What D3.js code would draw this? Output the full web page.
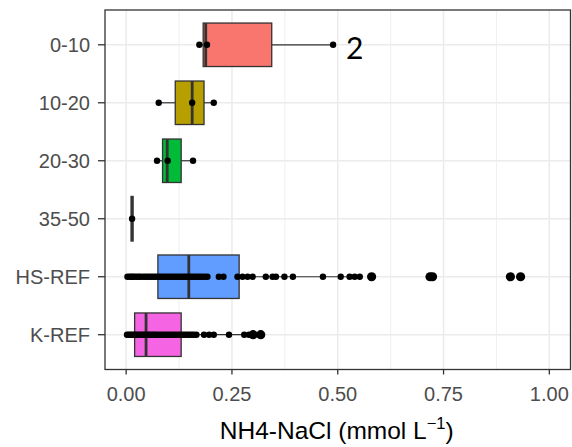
<!DOCTYPE html>
<html><head><meta charset="utf-8">
<script src="https://cdn.jsdelivr.net/npm/d3@7"></script>
<style>body{margin:0;background:#fff}svg{display:block}</style>
</head><body>
<svg id="c" width="572" height="447"></svg>
<script>
const categories = ["0-10","10-20","20-30","35-50","HS-REF","K-REF"];
const q1        = [0.182, 0.116, 0.086, 0.014, 0.075, 0.020];
const medians   = [0.188, 0.156, 0.097, 0.014, 0.148, 0.047];
const q3        = [0.344, 0.184, 0.130, 0.014, 0.267, 0.130];
const whiskerLo = [0.173, 0.077, 0.073, 0.014, 0.003, 0.002];
const whiskerHi = [0.489, 0.207, 0.158, 0.014, 0.552, 0.290];
const fills = ["#F8766D","#B79F00","#00BA38","#00BFC4","#619CFF","#F564E3"];

const pts_0_10  = [0.173, 0.191, 0.489];
const pts_10_20 = [0.077, 0.156, 0.207];
const pts_20_30 = [0.073, 0.098, 0.158];
const pts_35_50 = [0.014];
const pts_HS = [0.003,0.008,0.012,0.016,0.020,0.025,0.030,0.034,0.040,0.045,0.050,0.055,0.060,0.065,0.070,0.075,0.080,0.085,0.090,0.095,0.100,0.105,0.110,0.115,0.120,0.125,0.130,0.135,0.140,0.145,0.150,0.155,0.160,0.165,0.170,0.175,0.180,0.186,0.192,
  0.219,0.230,0.263,0.275,0.287,0.299,0.330,0.346,0.354,0.374,0.394,0.465,0.507,0.528,0.540,0.552,0.580,0.718,0.724,0.908,0.932];
const pts_K = [0.002,0.006,0.010,0.014,0.018,0.022,0.026,0.030,0.034,0.038,0.042,0.046,0.050,0.054,0.058,0.062,0.066,0.070,0.075,0.080,0.085,0.090,0.095,0.100,0.105,0.110,0.115,0.120,0.125,0.130,0.135,0.140,0.145,0.150,0.155,0.160,0.166,
  0.184,0.196,0.207,0.243,0.279,0.290,0.300,0.318];
const outliers_HS = [0.580, 0.718, 0.724, 0.908, 0.932];
const outliers_K  = [0.300, 0.318];

const xTicks = [0, 0.25, 0.5, 0.75, 1.0];
const xMinor = [0.125, 0.375, 0.625, 0.875];
const xTickLabels = ["0.00","0.25","0.50","0.75","1.00"];
const annotation = "2";

const pointSets = [pts_0_10, pts_10_20, pts_20_30, pts_35_50, pts_HS, pts_K];
const outlierSets = [[], [], [], [], outliers_HS, outliers_K];

const svg = d3.select("#c");
const L = 105, R = 570.5, T = 10, B = 369.5;
const x = d3.scaleLinear().domain([-0.05, 1.05]).range([L, R]);
const y = d3.scalePoint().domain(categories).range([T, B]).padding(0.6);
const half = y.step() * 0.75 / 2;

// grid
const g = svg.append("g");
g.selectAll(".minor").data(xMinor).join("line")
  .attr("x1", d => x(d)).attr("x2", d => x(d)).attr("y1", T).attr("y2", B)
  .attr("stroke", "#EBEBEB").attr("stroke-width", 0.8);
g.selectAll(".major").data(xTicks).join("line")
  .attr("x1", d => x(d)).attr("x2", d => x(d)).attr("y1", T).attr("y2", B)
  .attr("stroke", "#EBEBEB").attr("stroke-width", 1.5);
g.selectAll(".hmajor").data(categories).join("line")
  .attr("x1", L).attr("x2", R).attr("y1", d => y(d)).attr("y2", d => y(d))
  .attr("stroke", "#EBEBEB").attr("stroke-width", 1.5);

// boxes
const stroke = "#333333";
categories.forEach((c, i) => {
  const cy = y(c);
  const bg = svg.append("g");
  bg.append("line").attr("x1", x(whiskerLo[i])).attr("x2", x(q1[i])).attr("y1", cy).attr("y2", cy)
    .attr("stroke", stroke).attr("stroke-width", 1.2);
  bg.append("line").attr("x1", x(q3[i])).attr("x2", x(whiskerHi[i])).attr("y1", cy).attr("y2", cy)
    .attr("stroke", stroke).attr("stroke-width", 1.2);
  if (q3[i] > q1[i]) {
    bg.append("rect").attr("x", x(q1[i])).attr("y", cy - half)
      .attr("width", x(q3[i]) - x(q1[i])).attr("height", 2 * half)
      .attr("fill", fills[i]).attr("stroke", stroke).attr("stroke-width", 1.3);
  }
  const mh = q3[i] > q1[i] ? half : half + 1.2;
  bg.append("line").attr("x1", x(medians[i])).attr("x2", x(medians[i]))
    .attr("y1", cy - mh).attr("y2", cy + mh)
    .attr("stroke", stroke).attr("stroke-width", q3[i] > q1[i] ? 2.8 : 3.4);
});

// outliers (larger) and points
categories.forEach((c, i) => {
  svg.append("g").selectAll("circle").data(outlierSets[i]).join("circle")
    .attr("cx", d => x(d)).attr("cy", y(c)).attr("r", 4.6).attr("fill", "#000");
  svg.append("g").selectAll("circle").data(pointSets[i]).join("circle")
    .attr("cx", d => x(d)).attr("cy", y(c)).attr("r", 3.2).attr("fill", "#000");
});

// panel border
svg.append("rect").attr("x", L).attr("y", T).attr("width", R - L).attr("height", B - T)
  .attr("fill", "none").attr("stroke", stroke).attr("stroke-width", 1.3);

// y axis
const ya = svg.append("g");
categories.forEach(c => {
  ya.append("line").attr("x1", L - 7).attr("x2", L).attr("y1", y(c)).attr("y2", y(c))
    .attr("stroke", stroke).attr("stroke-width", 1.3);
  ya.append("text").attr("x", L - 15).attr("y", y(c)).attr("dy", "0.35em")
    .attr("text-anchor", "end").attr("font-family", "Liberation Sans, Arial, sans-serif")
    .attr("font-size", 20).attr("fill", "#4D4D4D").text(c);
});

// x axis
const xa = svg.append("g");
xTicks.forEach((t, i) => {
  xa.append("line").attr("x1", x(t)).attr("x2", x(t)).attr("y1", B).attr("y2", B + 5)
    .attr("stroke", stroke).attr("stroke-width", 1.3);
  xa.append("text").attr("x", x(t)).attr("y", B + 31)
    .attr("text-anchor", "middle").attr("font-family", "Liberation Sans, Arial, sans-serif")
    .attr("font-size", 20).attr("fill", "#4D4D4D").text(xTickLabels[i]);
});

// x title
const title = svg.append("text").attr("x", (L + R) / 2 - 1).attr("y", 438.5)
  .attr("text-anchor", "middle").attr("font-family", "Liberation Sans, Arial, sans-serif")
  .attr("font-size", 24.5).attr("fill", "#000");
title.append("tspan").text("NH4-NaCl (mmol L");
title.append("tspan").attr("font-size", 16.5).attr("dy", -10).text("\u22121");
title.append("tspan").attr("dy", 10).text(")");

// annotation
svg.append("text").attr("x", x(whiskerHi[0]) + 13).attr("y", 58.5)
  .attr("font-family", "Lato, sans-serif").attr("font-size", 30).attr("fill", "#000")
  .text(annotation);
</script>
</body></html>
